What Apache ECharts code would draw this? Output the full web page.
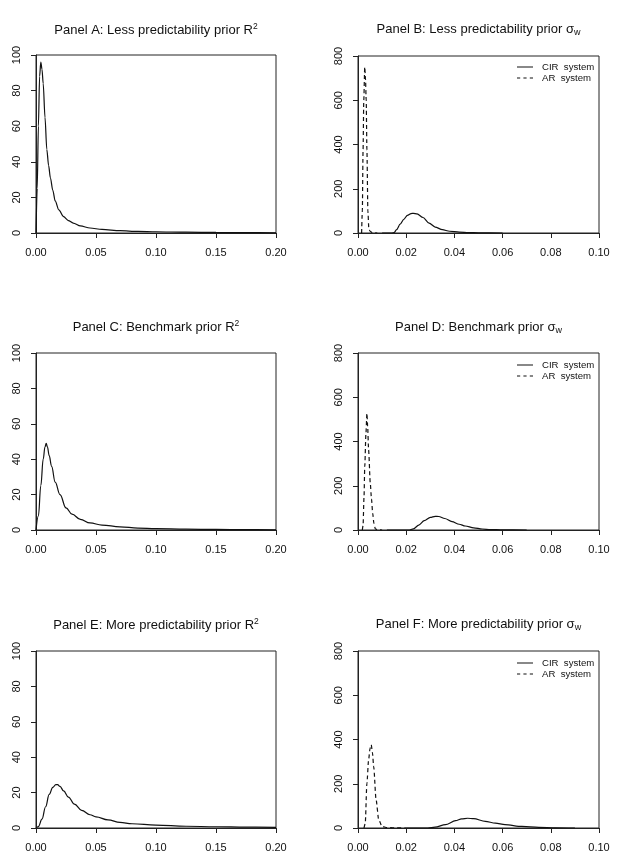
<!DOCTYPE html>
<html>
<head>
<meta charset="utf-8">
<script src="https://cdn.jsdelivr.net/npm/echarts@6/dist/echarts.min.js"></script>
<style>html,body{margin:0;padding:0;background:#fff;}#c{width:623px;height:855px;}</style>
</head>
<body>
<div id="c"></div>
<script>
// ---------- DATA ----------
// Panel A: Less predictability prior R^2
const aX = [0, 0.001, 0.002, 0.003, 0.004, 0.005, 0.006, 0.0075, 0.009, 0.0105, 0.012, 0.014, 0.016, 0.019, 0.023, 0.027, 0.031, 0.037, 0.045, 0.055, 0.07, 0.085, 0.10, 0.125, 0.15, 0.175, 0.20];
const aY = [0, 25, 60, 88, 96, 92, 84, 65, 47, 38, 31, 24, 18, 13, 9.2, 7, 5.6, 4, 2.8, 2, 1.3, 0.9, 0.7, 0.45, 0.3, 0.2, 0.1];
// Panel C: Benchmark prior R^2
const cX = [0, 0.002, 0.004, 0.006, 0.0075, 0.0085, 0.0095, 0.011, 0.013, 0.016, 0.02, 0.025, 0.03, 0.037, 0.045, 0.055, 0.07, 0.085, 0.10, 0.125, 0.15, 0.175, 0.2];
const cY = [0, 8, 25, 40, 47, 49, 47, 42, 36, 27, 20, 12.5, 9, 6, 4, 2.8, 1.8, 1.1, 0.8, 0.5, 0.3, 0.2, 0.1];
// Panel E: More predictability prior R^2
const eX = [0, 0.002, 0.005, 0.008, 0.011, 0.014, 0.0165, 0.018, 0.02, 0.023, 0.027, 0.032, 0.038, 0.045, 0.05, 0.06, 0.07, 0.08, 0.1, 0.125, 0.15, 0.175, 0.2];
const eY = [0, 0.8, 5, 12, 19, 23, 24.5, 24.5, 23.5, 21, 17.5, 13.5, 10, 7.5, 6.3, 4.6, 3.2, 2.4, 1.6, 1, 0.7, 0.5, 0.4];
// Panel B: Less predictability prior sigma_w
const bCirX = [0.01, 0.014, 0.015, 0.016, 0.0175, 0.019, 0.0205, 0.022, 0.023, 0.0245, 0.027, 0.0295, 0.032, 0.035, 0.038, 0.042, 0.046, 0.05, 0.06];
const bCirY = [0, 0, 2, 15, 40, 62, 80, 88, 89, 86, 70, 45, 27, 15, 8, 4, 2, 1, 0];
const bArX = [0.0015, 0.0018, 0.0021, 0.0024, 0.0028, 0.0031, 0.0034, 0.0037, 0.0041, 0.0045, 0.005, 0.006, 0.008];
const bArY = [0, 100, 375, 600, 750, 700, 600, 375, 100, 20, 8, 2, 0];
// Panel D: Benchmark prior sigma_w
const dCirX = [0.012, 0.021, 0.023, 0.0252, 0.0275, 0.03, 0.032, 0.0335, 0.036, 0.039, 0.042, 0.0445, 0.048, 0.0515, 0.055, 0.06, 0.07];
const dCirY = [0, 0, 5, 22, 42, 57, 62, 61, 52, 38, 26, 18, 10, 4.5, 2, 0.5, 0];
const dArX = [0.0018, 0.0021, 0.0025, 0.0028, 0.0033, 0.0037, 0.004, 0.0044, 0.0051, 0.0056, 0.0061, 0.0066, 0.0072, 0.008, 0.01];
const dArY = [0, 20, 150, 286, 437, 528, 470, 362, 211, 140, 75, 30, 5, 1, 0];
// Panel F: More predictability prior sigma_w
const fCirX = [0.02, 0.029, 0.032, 0.0363, 0.0405, 0.043, 0.0455, 0.048, 0.0528, 0.057, 0.061, 0.068, 0.075, 0.082, 0.09];
const fCirY = [0, 0, 4, 15, 33, 41, 44, 42, 30, 22, 15, 7, 3, 1, 0];
const fArX = [0.0025, 0.003, 0.0037, 0.0044, 0.005, 0.0055, 0.006, 0.0065, 0.0075, 0.0086, 0.01, 0.012, 0.015, 0.02];
const fArY = [0, 20, 202, 308, 360, 376, 340, 278, 128, 37, 7, 2, 0.5, 0];

const r2Ticks = [0, 0.05, 0.10, 0.15, 0.20];
const sigTicks = [0, 0.02, 0.04, 0.06, 0.08, 0.10];
const r2YTicks = [0, 20, 40, 60, 80, 100];
const sigYTicks = [0, 200, 400, 600, 800];

const titles = [
  'Panel A: Less predictability prior R{sup|2}',
  'Panel B: Less predictability prior σ{sub|w}',
  'Panel C: Benchmark prior R{sup|2}',
  'Panel D: Benchmark prior σ{sub|w}',
  'Panel E: More predictability prior R{sup|2}',
  'Panel F: More predictability prior σ{sub|w}'
];
const cirName = 'CIR  system';
const arName = 'AR  system';

// ---------- LAYOUT ----------
const FF = 'Liberation Sans, Arial, Helvetica, sans-serif';
const gridPos = [
  [36, 55, 240, 178], [358, 56, 241, 177],
  [36, 353, 240, 177], [358, 353, 241, 177],
  [36, 651, 240, 177], [358, 651, 241, 177]
];
const titleY = [30, 29, 327, 327, 625, 624];

const zip = (xs, ys) => xs.map((x, i) => [x, ys[i]]);

const grids = gridPos.map(g => ({
  left: g[0], top: g[1], width: g[2], height: g[3],
  show: true, borderColor: '#222', borderWidth: 1, backgroundColor: 'transparent',
  containLabel: false
}));

const xAxes = gridPos.map((g, i) => {
  const isR2 = i % 2 === 0;
  const ticks = isR2 ? r2Ticks : sigTicks;
  return {
    type: 'value', gridIndex: i,
    min: ticks[0], max: ticks[ticks.length - 1], interval: ticks[1] - ticks[0],
    axisLine: { show: true, onZero: false, lineStyle: { color: '#222', width: 1 } },
    axisTick: { show: true, inside: false, length: 5, lineStyle: { color: '#222' } },
    splitLine: { show: false },
    axisLabel: { color: '#111', fontSize: 11, fontFamily: FF, margin: 14,
      formatter: v => v.toFixed(2), showMinLabel: true, showMaxLabel: true }
  };
});

const yAxes = gridPos.map((g, i) => {
  const isR2 = i % 2 === 0;
  const ticks = isR2 ? r2YTicks : sigYTicks;
  return {
    type: 'value', gridIndex: i,
    min: ticks[0], max: ticks[ticks.length - 1], interval: ticks[1] - ticks[0],
    axisLine: { show: true, onZero: false, lineStyle: { color: '#222', width: 1 } },
    axisTick: { show: true, inside: false, length: 5, lineStyle: { color: '#222' } },
    splitLine: { show: false },
    axisLabel: { color: '#111', fontSize: 11, fontFamily: FF, margin: 14, rotate: 90,
      showMinLabel: true, showMaxLabel: true }
  };
});

const solid = { color: '#111', width: 1.2, type: 'solid' };
const dashed = { color: '#111', width: 1.2, type: [4, 3] };

function lineSeries(name, idx, data, style, sm) {
  return {
    name, type: 'line', xAxisIndex: idx, yAxisIndex: idx, data,
    showSymbol: false, symbol: 'none', smooth: sm, smoothMonotone: 'x',
    lineStyle: style, itemStyle: { color: '#111' }, silent: true, animation: false, clip: true
  };
}

const series = [
  lineSeries('A', 0, zip(aX, aY), solid, 0.3),
  lineSeries('C', 2, zip(cX, cY), solid, 0.4),
  lineSeries('E', 4, zip(eX, eY), solid, 0.4),
  lineSeries(cirName, 1, zip(bCirX, bCirY), solid, 0.3),
  lineSeries(arName, 1, zip(bArX, bArY), dashed, 0.25),
  lineSeries(cirName, 3, zip(dCirX, dCirY), solid, 0.3),
  lineSeries(arName, 3, zip(dArX, dArY), dashed, 0.25),
  lineSeries(cirName, 5, zip(fCirX, fCirY), solid, 0.3),
  lineSeries(arName, 5, zip(fArX, fArY), dashed, 0.25)
];

const solidIcon = 'path://M0,0H16V1H0Z';
const dashIcon = 'path://M0,0H3V1H0Z M6,0H9V1H6Z M12,0H15V1H12Z';
const legendTops = [62, 360, 658];
const legends = legendTops.map(t => ({
  data: [{ name: cirName, icon: solidIcon }, { name: arName, icon: dashIcon }],
  orient: 'vertical', left: 517, top: t,
  itemWidth: 16, itemHeight: 1.3, itemGap: 1, padding: 0,
  selectedMode: false,
  itemStyle: { color: '#111', borderWidth: 0 },
  textStyle: { fontSize: 9.6, fontFamily: FF, color: '#111', padding: [0, 0, 0, 4] }
}));

const graphic = titles.map((t, i) => {
  const g = gridPos[i];
  return {
    type: 'text', x: g[0] + g[2] / 2, y: titleY[i], silent: true,
    style: {
      text: t.replace(/^([^{]*)/, '{t|$1}'),
      align: 'center', verticalAlign: 'middle', fill: '#111',
      fontSize: 13, fontFamily: FF,
      rich: {
        t: { fontSize: 13, fontFamily: FF, color: '#111', lineHeight: 16 },
        sup: { fontSize: 8.5, fontFamily: FF, color: '#111', verticalAlign: 'top', lineHeight: 9 },
        sub: { fontSize: 9, fontFamily: FF, color: '#111', verticalAlign: 'bottom', lineHeight: 9 }
      }
    }
  };
});

const chart = echarts.init(document.getElementById('c'), null, { renderer: 'canvas' });
chart.setOption({
  animation: false,
  backgroundColor: '#fff',
  grid: grids, xAxis: xAxes, yAxis: yAxes, series, legend: legends, graphic
});
</script>
</body>
</html>
